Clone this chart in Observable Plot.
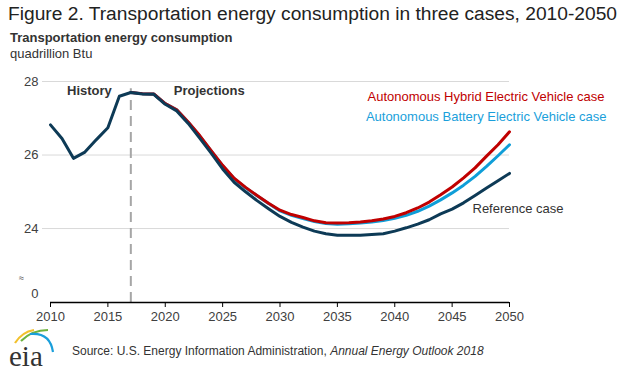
<!DOCTYPE html>
<html>
<head>
<meta charset="utf-8">
<script src="https://cdn.jsdelivr.net/npm/d3@7"></script>
<script src="https://cdn.jsdelivr.net/npm/@observablehq/plot@0.6"></script>
<style>
  body { margin: 0; background: #fff; font-family: "Liberation Sans", Arial, sans-serif; }
  #wrap { position: relative; width: 630px; height: 376px; overflow: hidden; }
  #title { position: absolute; left: 8px; top: 3px; font-size: 19.2px; color: #222; white-space: nowrap; }
  #sub1 { position: absolute; left: 10px; top: 30px; font-size: 13px; font-weight: bold; color: #333; }
  #sub2 { position: absolute; left: 10px; top: 46px; font-size: 13px; color: #333; }
  #chart { position: absolute; left: 0; top: 60px; }
  #source { position: absolute; left: 72px; top: 344px; font-size: 12px; color: #333; white-space: nowrap; }
  #logo { position: absolute; left: 6px; top: 324px; }
</style>
</head>
<body>
<div id="wrap">
  <div id="title">Figure 2. Transportation energy consumption in three cases, 2010-2050</div>
  <div id="sub1">Transportation energy consumption</div>
  <div id="sub2">quadrillion Btu</div>
  <div id="chart"></div>
  <svg id="logo" width="60" height="50" viewBox="0 0 60 50">
    <path d="M9,19 Q16,8 28,6" fill="none" stroke="#f2c12e" stroke-width="2.2"/>
    <path d="M15,17 Q26,6 42,6" fill="none" stroke="#6db33f" stroke-width="2.2"/>
    <path d="M24,10 Q44,8 47,28" fill="none" stroke="#1a9fdb" stroke-width="2.2"/>
    <text x="3" y="42" font-family="'Liberation Serif', 'DejaVu Serif', serif" font-size="29" fill="#333">eia</text>
  </svg>
  <div id="source">Source: U.S. Energy Information Administration, <i>Annual Energy Outlook 2018</i></div>
</div>
<script>
const years = d3.range(2010, 2051);
const referenceCase = [26.82, 26.45, 25.91, 26.08, 26.42, 26.74, 27.60, 27.70, 27.66, 27.65,
  27.38, 27.20, 26.86, 26.46, 26.05, 25.62, 25.26, 25.00, 24.76, 24.54,
  24.33, 24.17, 24.04, 23.93, 23.86, 23.82, 23.82, 23.82, 23.84, 23.86,
  23.93, 24.02, 24.12, 24.24, 24.40, 24.53, 24.70, 24.90, 25.10, 25.30, 25.50];
const projYears = d3.range(2017, 2051);
const hybridCase = [27.70, 27.67, 27.66,
  27.40, 27.23, 26.90, 26.53, 26.12, 25.72, 25.37, 25.12, 24.90, 24.69,
  24.50, 24.38, 24.30, 24.21, 24.16, 24.15, 24.16, 24.18, 24.21, 24.26,
  24.33, 24.43, 24.56, 24.72, 24.92, 25.13, 25.38, 25.65, 25.97, 26.28, 26.63];
const batteryCase = [27.70, 27.67, 27.66,
  27.40, 27.23, 26.89, 26.52, 26.11, 25.71, 25.36, 25.11, 24.89, 24.68,
  24.48, 24.36, 24.27, 24.19, 24.14, 24.12, 24.13, 24.15, 24.18, 24.22,
  24.28, 24.36, 24.47, 24.61, 24.78, 24.97, 25.18, 25.42, 25.69, 25.98, 26.28];
const yTicks = [0, 24, 26, 28];
const xTicks = d3.range(2010, 2051, 5);
const lastHistoryYear = 2017;

const refData = years.map((x, i) => ({x, y: referenceCase[i]}));
const hybData = projYears.map((x, i) => ({x, y: hybridCase[i]}));
const batData = projYears.map((x, i) => ({x, y: batteryCase[i]}));

const font = "'Liberation Sans', Arial, sans-serif";
const chart = Plot.plot({
  width: 630,
  height: 265,
  marginLeft: 50,
  marginRight: 121,
  marginTop: 21,
  marginBottom: 23,
  style: {fontFamily: font, fontSize: "13px", color: "#404040", background: "transparent", overflow: "visible"},
  x: {domain: [2010, 2050]},
  y: {type: "linear", domain: [-0.45, 0, 22.75, 28], range: [242, 233, 214, 21]},
  marks: [
    Plot.ruleY([24, 26, 28], {stroke: "#d9d9d9", strokeWidth: 1, insetLeft: -8}),
    Plot.ruleX([lastHistoryYear], {y1: -0.45, y2: 27.8, stroke: "#a6a6a6", strokeWidth: 2, strokeDasharray: "10,6"}),
    Plot.axisY({ticks: yTicks, tickSize: 0, tickPadding: 12, fontSize: 13, label: null, tickFormat: d => String(d)}),
    Plot.text(["≈"], {x: 2010, y: 18, dx: -29, fontSize: 9, fill: "#404040"}),
    Plot.axisX({ticks: xTicks, tickSize: 5, tickPadding: 4, fontSize: 13, label: null, tickFormat: d => String(d), stroke: "#000"}),
    Plot.ruleY([-0.45], {stroke: "#000", strokeWidth: 1.5}),
    Plot.line(batData, {x: "x", y: "y", stroke: "#0f9ed8", strokeWidth: 3}),
    Plot.line(hybData, {x: "x", y: "y", stroke: "#c00000", strokeWidth: 3}),
    Plot.line(refData, {x: "x", y: "y", stroke: "#0d3a56", strokeWidth: 3}),
    Plot.text(["History"], {x: lastHistoryYear, frameAnchor: "top", dy: 4, dx: -19, textAnchor: "end", fontWeight: "bold", fontSize: 13, fill: "#333"}),
    Plot.text(["Projections"], {x: lastHistoryYear, frameAnchor: "top", dy: 4, dx: 43, textAnchor: "start", fontWeight: "bold", fontSize: 13, fill: "#333"}),
    Plot.text(["Autonomous Hybrid Electric Vehicle case"], {x: 2050, frameAnchor: "top", dy: 10, dx: 95, textAnchor: "end", fontSize: 13, fill: "#c00000"}),
    Plot.text(["Autonomous Battery Electric Vehicle case"], {x: 2050, frameAnchor: "top", dy: 30, dx: 97, textAnchor: "end", fontSize: 13, fill: "#1a9fdb"}),
    Plot.text(["Reference case"], {x: 2050, y: 24.55, dx: -37, textAnchor: "start", fontSize: 13, fill: "#333"})
  ]
});
document.getElementById("chart").appendChild(chart);
</script>
</body>
</html>
